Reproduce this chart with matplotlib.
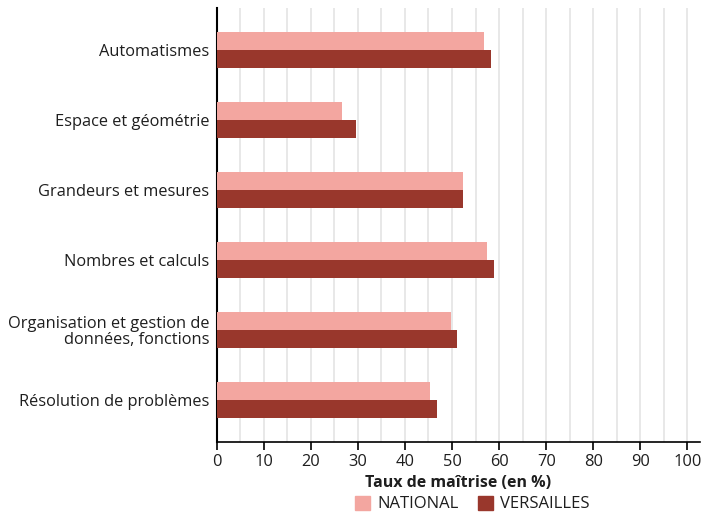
import numpy as np
import matplotlib.pyplot as plt
from matplotlib.patches import Patch

plt.rcParams['font.family'] = ['Open Sans', 'DejaVu Sans']

# Taux de maîtrise par domaine
domaines = ["Automatismes", "Espace et géométrie", "Grandeurs et mesures",
            "Nombres et calculs", "Organisation et gestion de\ndonnées, fonctions",
            "Résolution de problèmes"]
national = [56.8, 26.6, 52.3, 57.4, 49.7, 45.3]
versailles = [58.2, 29.6, 52.3, 58.9, 51.0, 46.8]

col_nat = "#f3a6a0"
col_ver = "#99372c"

fig = plt.figure(figsize=(7.03, 5.18), dpi=100)
ax = fig.add_axes([0.308, 0.147, 0.688, 0.838])

y = np.arange(len(domaines))
h = 0.257
ax.barh(y - h / 2, national, height=h, color=col_nat, zorder=3)
ax.barh(y + h / 2, versailles, height=h, color=col_ver, zorder=3)

ax.set_ylim(len(domaines) - 0.4, -0.6)
ax.set_xlim(0, 102.7)
ax.set_yticks(y)
ax.set_yticklabels(domaines, fontsize=11.8, color="#1e1e1e", multialignment="right",
                   linespacing=1.0)
ax.tick_params(axis="y", length=0, pad=5)
ax.set_xticks(np.arange(0, 101, 10))
ax.set_xticks(np.arange(5, 101, 10), minor=True)
ax.tick_params(axis="x", which="major", length=6, width=1.2, labelsize=11.8,
               labelcolor="#1e1e1e", pad=3)
ax.tick_params(axis="x", which="minor", length=0)
ax.grid(axis="x", which="both", color="#e6e6e6", linewidth=1.3, zorder=0)

for s in ["top", "right"]:
    ax.spines[s].set_visible(False)
ax.spines["left"].set_linewidth(1.5)
ax.spines["bottom"].set_linewidth(1.2)

ax.set_xlabel("Taux de maîtrise (en %)", fontsize=11.5, fontweight="bold",
              color="#1e1e1e", labelpad=3)

handles = [Patch(color=col_nat, label="NATIONAL"), Patch(color=col_ver, label="VERSAILLES")]
fig.legend(handles=handles, loc="center", bbox_to_anchor=(0.672, 0.027), ncol=2,
           frameon=False, fontsize=12, handlelength=0.9, handleheight=0.9,
           handletextpad=0.4, columnspacing=1.2, labelcolor="#1e1e1e")

fig.savefig("out.png", dpi=100)
